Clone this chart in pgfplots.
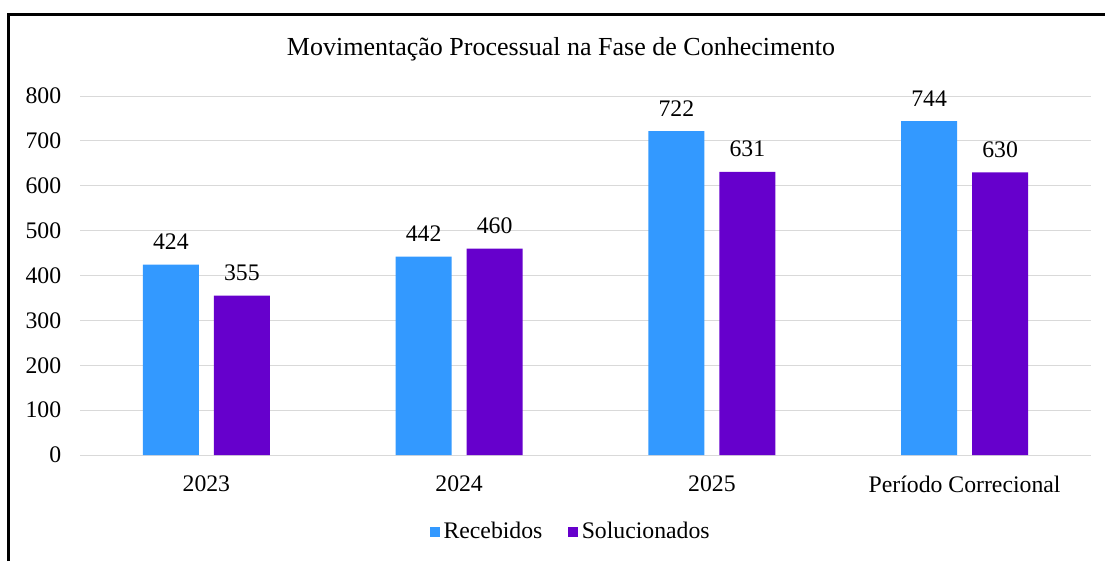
\documentclass[border=0pt]{standalone}
\usepackage{pgfplots}
\pgfplotsset{compat=1.18}
\usepackage{fontspec}
\setmainfont{Liberation Serif}
\definecolor{cblue}{HTML}{3399FF}
\definecolor{cpurple}{HTML}{6600CC}
\definecolor{cgrid}{HTML}{D9D9D9}
\begin{document}
\fontsize{17.8}{21}\selectfont
\begin{tikzpicture}
\path[use as bounding box] (0,0) rectangle (828.75pt,420.75pt);
\draw[line width=2pt] (6.4pt,0pt) -- (6.4pt,409.7pt) -- (830pt,409.7pt);
\node[font=\fontsize{19.5}{23}\selectfont] at (420.75pt,384pt) {Movimentação Processual na Fase de Conhecimento};
\begin{axis}[
  at={(60pt,79.5pt)}, anchor=south west,
  scale only axis, width=758.25pt, height=269.25pt,
  ybar=11.25pt, bar width=42pt,
  xmin=-0.5, xmax=3.5, ymin=0, ymax=800,
  xtick=data, xticklabels={2023,2024,2025,Período Correcional},
  ytick={0,100,...,800},
  axis line style={draw=none},
  major tick style={draw=none},
  ymajorgrids, grid style={cgrid, line width=0.75pt},
  /pgf/number format/assume math mode=true,
  ticklabel style={font=\fontsize{17.8}{21}\selectfont},
  yticklabel style={xshift=-8pt},
  xticklabel style={yshift=-5pt},
  nodes near coords,
  every node near coord/.append style={font=\fontsize{17.8}{21}\selectfont, yshift=5pt, black},
  legend style={draw=none, at={(0.4856,-0.2145)}, anchor=center, legend columns=2,
    font=\fontsize{17.8}{21}\selectfont, /tikz/every even column/.append style={column sep=17pt},
    /tikz/every odd column/.append style={column sep=1pt}},
  legend image code/.code={\path[#1, draw=none] (0pt,-3.75pt) rectangle (7.5pt,3.75pt);},
]
\addplot[fill=cblue, draw=none] coordinates {(0,424) (1,442) (2,722) (3,744)};
\addplot[fill=cpurple, draw=none] coordinates {(0,355) (1,460) (2,631) (3,630)};
\legend{Recebidos,Solucionados}
\end{axis}
\end{tikzpicture}
\end{document}
